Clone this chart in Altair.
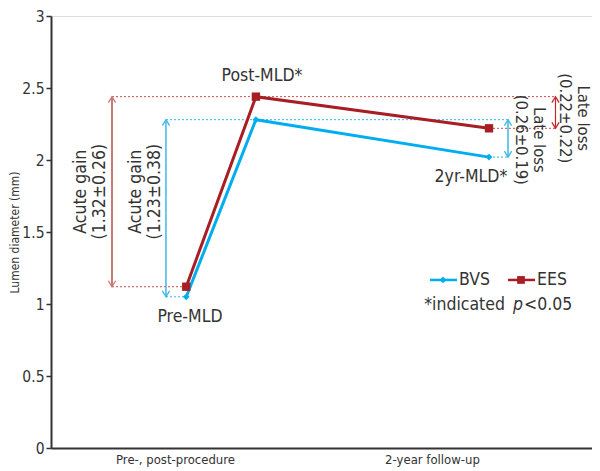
import altair as alt
import pandas as pd

# ---- data ----
series = ["BVS", "EES"]
stages = ["Pre-MLD", "Post-MLD*", "2yr-MLD*"]
stage_x = [2.0, 3.03, 6.477]        # position of the three measurements on the x scale
bvs = [1.05, 2.28, 2.02]
ees = [1.12, 2.44, 2.22]
x_tick_labels = ["Pre-, post-procedure", "2-year follow-up"]
x_tick_pos = [1.834, 5.634]
gain_labels = {"BVS": "Acute gain\n(1.23±0.38)", "EES": "Acute gain\n(1.32±0.26)"}
loss_labels = {"BVS": "Late loss\n(0.26±0.19)", "EES": "Late loss\n(0.22±0.22)"}

BLUE = "#00AEEF"
RED = "#A71E24"
FONT = "Liberation Sans Narrow, DejaVu Sans Condensed, sans-serif"
TXT = "#333333"
FS = 17.5

XS = alt.Scale(domain=[0, 8], nice=False, zero=False)
YS = alt.Scale(domain=[0, 3], nice=False, zero=True)

rows = []
for s, vals in (("BVS", bvs), ("EES", ees)):
    for st, x, v in zip(stages, stage_x, vals):
        rows.append({"series": s, "stage": st, "x": x, "y": v})
df = pd.DataFrame(rows)

color = alt.Color("series:N", scale=alt.Scale(domain=series, range=[BLUE, RED]), legend=None)

lines = alt.Chart(df).mark_line(strokeWidth=3).encode(
    x=alt.X("x:Q", scale=XS,
            axis=alt.Axis(values=x_tick_pos, title=None, ticks=False, grid=False,
                          labelExpr="datum.value < 3 ? '%s' : '%s'" % tuple(x_tick_labels),
                          labelFontSize=13, labelPadding=5, labelColor=TXT,
                          domainColor="#333333", domainWidth=2)),
    y=alt.Y("y:Q", scale=YS,
            axis=alt.Axis(values=[0, 0.5, 1, 1.5, 2, 2.5, 3], format=".1~f",
                          title="Lumen diameter (mm)", titleFontSize=12, titleFontWeight="normal",
                          titleColor=TXT, titlePadding=0, grid=False,
                          labelFontSize=15.5, labelColor=TXT, labelPadding=2,
                          tickSize=5, tickColor="#333333", tickWidth=1.5,
                          domainColor="#333333", domainWidth=2)),
    color=color, detail="series:N",
)

pts_bvs = alt.Chart(df[df.series == "BVS"]).mark_point(
    shape="diamond", filled=True, size=45, opacity=1, color=BLUE).encode(
    x=alt.X("x:Q", scale=XS), y=alt.Y("y:Q", scale=YS))
pts_ees = alt.Chart(df[df.series == "EES"]).mark_point(
    shape="square", filled=True, size=70, opacity=1, color=RED).encode(
    x=alt.X("x:Q", scale=XS), y=alt.Y("y:Q", scale=YS))

# ---- annotation geometry (x positions in x-scale units) ----
arrow_x = {"EES_gain": 0.902, "BVS_gain": 1.70, "BVS_loss": 6.758, "EES_loss": 7.46}

guides = pd.DataFrame([
    {"x": arrow_x["EES_gain"], "x2": arrow_x["EES_loss"], "y": ees[1], "c": "#C0504D"},
    {"x": arrow_x["EES_gain"], "x2": stage_x[0], "y": ees[0], "c": "#C0504D"},
    {"x": stage_x[2], "x2": arrow_x["EES_loss"], "y": ees[2], "c": "#C0504D"},
    {"x": arrow_x["BVS_gain"], "x2": arrow_x["BVS_loss"], "y": bvs[1], "c": "#2BB5E8"},
    {"x": arrow_x["BVS_gain"], "x2": stage_x[0], "y": bvs[0], "c": "#2BB5E8"},
    {"x": stage_x[2], "x2": arrow_x["BVS_loss"], "y": bvs[2], "c": "#2BB5E8"},
])
guide_layer = alt.Chart(guides).mark_rule(strokeWidth=1, strokeDash=[2, 2]).encode(
    x=alt.X("x:Q", scale=XS), x2="x2:Q", y=alt.Y("y:Q", scale=YS),
    color=alt.Color("c:N", scale=None))

arrows = pd.DataFrame([
    {"x": arrow_x["EES_gain"], "lo": ees[0], "hi": ees[1], "c": "#C97A74", "w": 2.0},
    {"x": arrow_x["BVS_gain"], "lo": bvs[0], "hi": bvs[1], "c": "#3DB7E7", "w": 1.5},
    {"x": arrow_x["BVS_loss"], "lo": bvs[2], "hi": bvs[1], "c": "#3DB7E7", "w": 1.5},
    {"x": arrow_x["EES_loss"], "lo": ees[2], "hi": ees[1], "c": "#C8262C", "w": 1.2},
])
arrow_lines = alt.Chart(arrows).mark_rule().encode(
    x=alt.X("x:Q", scale=XS), y=alt.Y("lo:Q", scale=YS), y2="hi:Q",
    color=alt.Color("c:N", scale=None), strokeWidth=alt.StrokeWidth("w:Q", scale=None))
head_top = alt.Chart(arrows).mark_point(
    shape="M-0.6,1L0,0L0.6,1", filled=False, size=144, strokeWidth=1.3, opacity=1).encode(
    x=alt.X("x:Q", scale=XS), y=alt.Y("hi:Q", scale=YS), color=alt.Color("c:N", scale=None))
head_bot = alt.Chart(arrows).mark_point(
    shape="M-0.6,-1L0,0L0.6,-1", filled=False, size=144, strokeWidth=1.3, opacity=1).encode(
    x=alt.X("x:Q", scale=XS), y=alt.Y("lo:Q", scale=YS), color=alt.Color("c:N", scale=None))

# anchor = centre of the first text line; second line follows one lineHeight further
gain_txt = pd.DataFrame([
    {"x": 0.451, "y": 1.78, "t": gain_labels["EES"]},
    {"x": 1.250, "y": 1.78, "t": gain_labels["BVS"]},
])
gain_layer = alt.Chart(gain_txt).mark_text(
    angle=270, lineBreak="\n", fontSize=FS, lineHeight=19, font=FONT, color=TXT,
    align="center", baseline="middle").encode(
    x=alt.X("x:Q", scale=XS), y=alt.Y("y:Q", scale=YS), text="t:N")

loss_txt = pd.DataFrame([
    {"x": 7.209, "y": 2.14, "t": loss_labels["BVS"]},
    {"x": 7.867, "y": 2.29, "t": loss_labels["EES"]},
])
loss_layer = alt.Chart(loss_txt).mark_text(
    angle=90, lineBreak="\n", fontSize=16.5, lineHeight=18, font=FONT, color=TXT,
    align="center", baseline="middle").encode(
    x=alt.X("x:Q", scale=XS), y=alt.Y("y:Q", scale=YS), text="t:N")

stage_txt = pd.DataFrame([
    {"x": 2.055, "y": 0.91, "t": stages[0]},
    {"x": 3.12, "y": 2.583, "t": stages[1]},
    {"x": 6.21, "y": 1.882, "t": stages[2]},
])
stage_layer = alt.Chart(stage_txt).mark_text(
    fontSize=FS, font=FONT, color=TXT, align="center", baseline="middle").encode(
    x=alt.X("x:Q", scale=XS), y=alt.Y("y:Q", scale=YS), text="t:N")

# ---- hand-drawn legend ----
LEG_Y = 1.167
leg_lines = pd.DataFrame([
    {"x": 5.604, "x2": 6.004, "series": "BVS"},
    {"x": 6.758, "x2": 7.157, "series": "EES"},
])
leg_line_layer = alt.Chart(leg_lines).mark_rule(strokeWidth=2.5).encode(
    x=alt.X("x:Q", scale=XS), x2="x2:Q", y=alt.datum(LEG_Y, scale=YS), color=color)
leg_d = alt.Chart(pd.DataFrame([{"x": 5.797}])).mark_point(
    shape="diamond", filled=True, size=45, opacity=1, color=BLUE).encode(
    x=alt.X("x:Q", scale=XS), y=alt.datum(LEG_Y, scale=YS))
leg_s = alt.Chart(pd.DataFrame([{"x": 6.950}])).mark_point(
    shape="square", filled=True, size=60, opacity=1, color=RED).encode(
    x=alt.X("x:Q", scale=XS), y=alt.datum(LEG_Y, scale=YS))
leg_txt = pd.DataFrame([
    {"x": 6.033, "t": series[0]},
    {"x": 7.187, "t": series[1]},
])
leg_txt_layer = alt.Chart(leg_txt).mark_text(
    fontSize=FS, font=FONT, color=TXT, align="left", baseline="middle").encode(
    x=alt.X("x:Q", scale=XS), y=alt.datum(LEG_Y, scale=YS), text="t:N")

NOTE_Y = 0.99
note1 = alt.Chart(pd.DataFrame([{"x": 6.713, "t": "*indicated"}])).mark_text(
    fontSize=FS, font=FONT, color=TXT, align="right", baseline="middle").encode(
    x=alt.X("x:Q", scale=XS), y=alt.datum(NOTE_Y, scale=YS), text="t:N")
note2 = alt.Chart(pd.DataFrame([{"x": 6.906, "t": "p"}])).mark_text(
    fontSize=FS, font=FONT, color=TXT, align="center", baseline="middle",
    fontStyle="italic").encode(
    x=alt.X("x:Q", scale=XS), y=alt.datum(NOTE_Y, scale=YS), text="t:N")
note3 = alt.Chart(pd.DataFrame([{"x": 6.994, "t": "<0.05"}])).mark_text(
    fontSize=FS, font=FONT, color=TXT, align="left", baseline="middle").encode(
    x=alt.X("x:Q", scale=XS), y=alt.datum(NOTE_Y, scale=YS), text="t:N")

chart = alt.layer(
    guide_layer, arrow_lines, head_top, head_bot,
    lines, pts_bvs, pts_ees,
    gain_layer, loss_layer, stage_layer,
    leg_line_layer, leg_d, leg_s, leg_txt_layer, note1, note2, note3,
).properties(
    width=541, height=432,
    autosize=alt.AutoSizeParams(type="none"),
    padding={"left": 43, "top": 8, "right": 0, "bottom": 21},
).configure_view(
    fill="#ECE9D7", stroke=None
).configure(
    font=FONT, background="white"
)

chart.save("out.html", embed_options={"renderer": "svg", "actions": False})
